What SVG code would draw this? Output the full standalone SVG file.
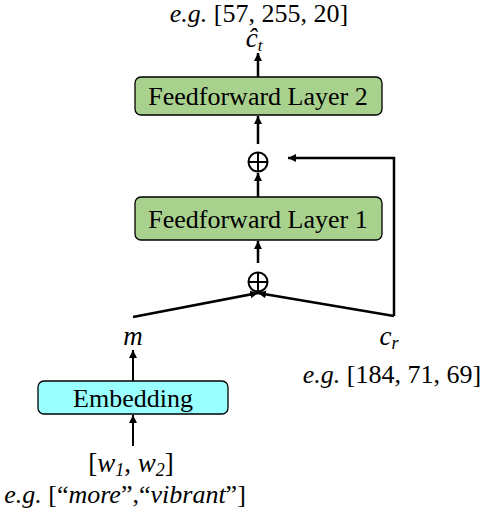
<svg xmlns="http://www.w3.org/2000/svg" width="482" height="512" viewBox="0 0 482 512" font-family="Liberation Serif, Times New Roman, serif">
<defs>
<style>
.t{font-size:26px;fill:#000;text-anchor:middle}
.m{font-style:italic;font-size:27px;fill:#000;text-anchor:middle}
.i{font-style:italic}
.u{font-style:normal}
.box{stroke:#000;stroke-width:1.3}
.green{fill:#A9D18E}
.cyan{fill:#99FFFF}
.ln{stroke:#000;stroke-width:2.5;fill:none}
.ln2{stroke:#000;stroke-width:2;fill:none}
.op{stroke:#000;stroke-width:2;fill:none}
</style>
<marker id="ah" markerWidth="8" markerHeight="8" viewBox="0 0 10 10" refX="10" refY="5" orient="auto" markerUnits="userSpaceOnUse">
<path d="M0,0 L10,5 L0,10 Z" fill="#000"/>
</marker>
</defs>

<g id="connectors">
<line class="ln" x1="258" y1="77" x2="258" y2="53" marker-end="url(#ah)"/>
<line class="ln" x1="258" y1="144" x2="258" y2="116" marker-end="url(#ah)"/>
<line class="ln" x1="258" y1="197" x2="258" y2="173" marker-end="url(#ah)"/>
<line class="ln" x1="258" y1="263" x2="258" y2="241" marker-end="url(#ah)"/>
<line class="ln" x1="133" y1="317" x2="258" y2="293" marker-end="url(#ah)"/>
<line class="ln" x1="394" y1="316" x2="258" y2="293" marker-end="url(#ah)"/>
<polyline class="ln" points="394,316 394,158 288,158" marker-end="url(#ah)"/>
<line class="ln2" x1="133" y1="381" x2="133" y2="350" marker-end="url(#ah)"/>
<line class="ln2" x1="133" y1="446" x2="133" y2="415" marker-end="url(#ah)"/>
</g>

<g id="output">
<text class="t" x="259" y="22"><tspan class="i">e.g.</tspan> [57, 255, 20]</text>
<text class="m" x="254" y="47" font-size="23">ĉ<tspan font-size="17" dy="4">t</tspan></text>
</g>

<g id="ff2">
<rect class="box green" x="135" y="77" width="247" height="38" rx="6"/>
<text class="t" x="258" y="105">Feedforward Layer 2</text>
</g>

<g id="add1">
<circle class="op" cx="258" cy="162" r="9.5"/>
<line class="op" x1="248.5" y1="162" x2="267.5" y2="162"/>
<line class="op" x1="258" y1="152.5" x2="258" y2="171.5"/>
</g>

<g id="ff1">
<rect class="box green" x="135" y="197" width="247" height="43" rx="6"/>
<text class="t" x="258" y="228">Feedforward Layer 1</text>
</g>

<g id="add2">
<circle class="op" cx="258" cy="282" r="9.5"/>
<line class="op" x1="248.5" y1="282" x2="267.5" y2="282"/>
<line class="op" x1="258" y1="272.5" x2="258" y2="291.5"/>
</g>

<g id="m">
<text class="m" x="133" y="345">m</text>
</g>

<g id="cr">
<text class="m" x="389" y="345">c<tspan font-size="18" dy="4">r</tspan></text>
<text class="t" x="392" y="383"><tspan class="i">e.g.</tspan> [184, 71, 69]</text>
</g>

<g id="embedding">
<rect class="box cyan" x="38" y="381" width="190" height="33" rx="6"/>
<text class="t" x="133" y="407">Embedding</text>
</g>

<g id="input">
<text class="m" x="131" y="472" font-size="26"><tspan class="u">[</tspan>w<tspan font-size="18" dy="4">1</tspan><tspan dy="-4" class="u">, </tspan>w<tspan font-size="18" dy="4">2</tspan><tspan dy="-4" class="u">]</tspan></text>
<text class="t" x="125" y="503"><tspan class="i">e.g.</tspan> [“<tspan class="i">more</tspan>”,“<tspan class="i">vibrant</tspan>”]</text>
</g>
</svg>
